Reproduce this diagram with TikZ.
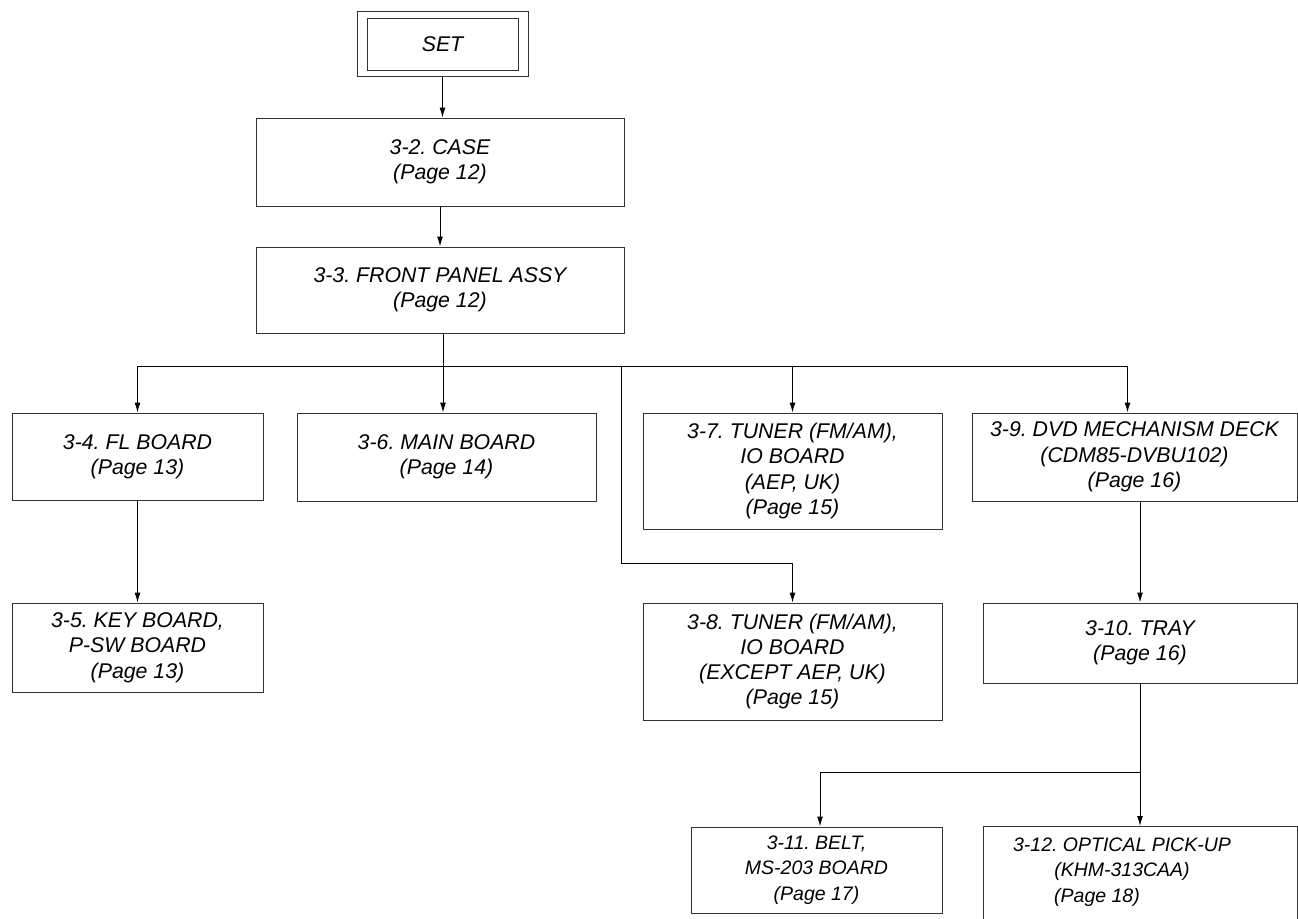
\documentclass[tikz,border=0pt]{standalone}
\usepackage{fontspec}
\setmainfont{Liberation Sans}
\usetikzlibrary{arrows.meta, positioning, fit}
\frenchspacing

\begin{document}
\begin{tikzpicture}[
        x=1pt, y=-1pt,
        >={Latex[length=10pt, width=6pt]},
        part/.style={draw=black!80, line width=1pt, align=center, inner sep=0pt, font=\fontsize{21.3}{25.3}\selectfont\itshape},
        lowpart/.style={part, font=\fontsize{19.5}{25.3}\selectfont\itshape},
        wire/.style={line width=1pt},
        link/.style={wire, ->}
    ]
        \useasboundingbox (0,0) rectangle (1298,918);

        \node[part, minimum width=151pt, minimum height=52pt] (set) at (442.5,44) {SET};
        \node[draw=black!80, line width=1pt, fit=(set), inner xsep=9.5pt, inner ysep=6pt] (setframe) {};
        \node[part, minimum width=368pt, minimum height=88pt] (case) at (440,162) {3-2. CASE\\(Page 12)};
        \node[part, minimum width=368pt, minimum height=86pt] (fp) at (440,290) {3-3. FRONT PANEL ASSY\\(Page 12)};

        \node[part, minimum width=251pt, minimum height=87pt] (fl) at (137.5,456.5) {3-4. FL BOARD\\(Page 13)};
        \node[part, minimum width=299pt, minimum height=88pt] (main) at (446.5,457) {3-6. MAIN BOARD\\(Page 14)};
        \node[part, minimum width=299pt, minimum height=116pt] (tuner1) at (792.5,471) {3-7. TUNER (FM/AM),\\IO BOARD\\(AEP, UK)\\(Page 15)};
        \node[part, minimum width=325pt, minimum height=88pt] (dvd) at (1134.5,457) {3-9. DVD MECHANISM DECK\\(CDM85-DVBU102)\\(Page 16)};

        \node[part, minimum width=251pt, minimum height=89pt] (key) at (137.5,647.5) {3-5. KEY BOARD,\\P-SW BOARD\\(Page 13)};
        \node[part, minimum width=299pt, minimum height=117pt] (tuner2) at (792.5,661.5) {3-8. TUNER (FM/AM),\\IO BOARD\\(EXCEPT AEP, UK)\\(Page 15)};
        \node[part, minimum width=314pt, minimum height=80pt] (tray) at (1140,643) {3-10. TRAY\\(Page 16)};

        \node[lowpart, minimum width=251pt, minimum height=86pt] (belt) at (816.5,870) {3-11. BELT,\\MS-203 BOARD\\(Page 17)};
        % box runs off the bottom of the sheet
        \node[lowpart, align=none, anchor=north, minimum width=314pt, text height=25pt, text depth=75pt] (pickup) at (1140,826)
            {\begin{tabular}[t]{@{}c@{}}3-12. OPTICAL PICK-UP\\(KHM-313CAA)\\(Page 18)\hspace*{50pt}\end{tabular}\hspace*{36pt}};

        \coordinate (hub) at (443,366);
        \coordinate (tap) at (621,366);
        \coordinate (bend) at (621,563);
        \coordinate (fork) at (1140,772);

        \draw[link] (setframe.south) -- (setframe.south |- case.north);
        \draw[link] (case) -- (fp);
        \draw[wire] (fp.south -| hub) -- (hub);
        \draw[link] (hub) -| (fl.north);
        \draw[link] (hub) -- (hub |- main.north);
        \draw[link] (hub) -| (tuner1.north);
        \draw[link] (hub) -| ([xshift=-7pt]dvd.north);
        \draw[wire] (tap) -- (bend);
        \draw[link] (bend) -| (tuner2.north);
        \draw[link] (fl) -- (key);
        \draw[link] (tray.north |- dvd.south) -- (tray.north);
        \draw[link] (tray) -- (pickup);
        \draw[link] (fork) -| ([xshift=3.5pt]belt.north);
\end{tikzpicture}
\end{document}
